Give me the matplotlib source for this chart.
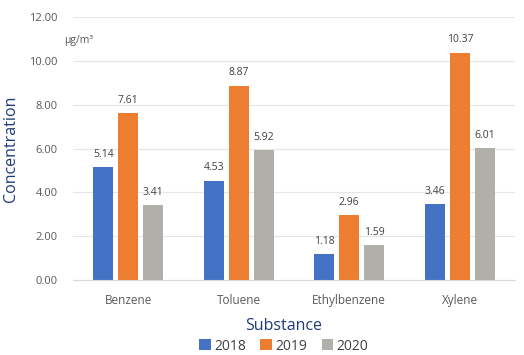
import matplotlib
matplotlib.use("Agg")
import matplotlib.pyplot as plt
import numpy as np

categories = ["Benzene", "Toluene", "Ethylbenzene", "Xylene"]
years = ["2018", "2019", "2020"]
v2018 = [5.14, 4.53, 1.18, 3.46]
v2019 = [7.61, 8.87, 2.96, 10.37]
v2020 = [3.41, 5.92, 1.59, 6.01]
yticks = [0, 2, 4, 6, 8, 10, 12]

colors = ["#4472C4", "#ED7D31", "#B1AFAA"]
plt.rcParams['font.family'] = ['Open Sans', 'DejaVu Sans']

fig = plt.figure(figsize=(5.24, 3.55), dpi=100)
ax = fig.add_axes([0.139, 0.211, 0.844, 0.741])

x = np.arange(len(categories))
w = 0.18
step = 0.225
series = [v2018, v2019, v2020]
for i, (vals, c, lab) in enumerate(zip(series, colors, years)):
    bars = ax.bar(x + (i - 1) * step, vals, width=w, color=c, label=lab)
    for b, v in zip(bars, vals):
        ax.text(b.get_x() + b.get_width() / 2, v + 0.35, f"{v:.2f}",
                ha="center", va="bottom", fontsize=7.5, color="#404040")

ax.set_xlim(-0.5, 3.5)
ax.set_ylim(0, 12)
ax.set_yticks(yticks)
ax.set_yticklabels([f"{t:.2f}" for t in yticks], fontsize=8, color="#595959")
ax.set_xticks(x)
ax.set_xticklabels(categories, fontsize=8.5, color="#595959")
ax.tick_params(axis="both", length=0)
ax.tick_params(axis="x", pad=10)
ax.tick_params(axis="y", pad=11)
ax.grid(axis="y", color="#E6E6E6", linewidth=0.8)
ax.set_axisbelow(True)
for s in ["top", "right", "left"]:
    ax.spines[s].set_visible(False)
ax.spines["bottom"].set_color("#D9D9D9")

ax.set_ylabel("Concentration", fontsize=11.5, color="#1F3A7A", labelpad=7)
fig.text(0.542, 0.082, "Substance", ha="center", va="center", fontsize=11.5, color="#1F3A7A")
fig.text(0.122, 0.88, "μg/m³", fontsize=7.5, color="#595959")

handles, labels = ax.get_legend_handles_labels()
fig.legend(handles, labels, loc="center", bbox_to_anchor=(0.542, 0.025), ncol=3,
           frameon=False, fontsize=10, handlelength=0.8, handleheight=0.8,
           handletextpad=0.3, columnspacing=1.0, labelcolor="#404040")

fig.savefig("out.png", dpi=100)
